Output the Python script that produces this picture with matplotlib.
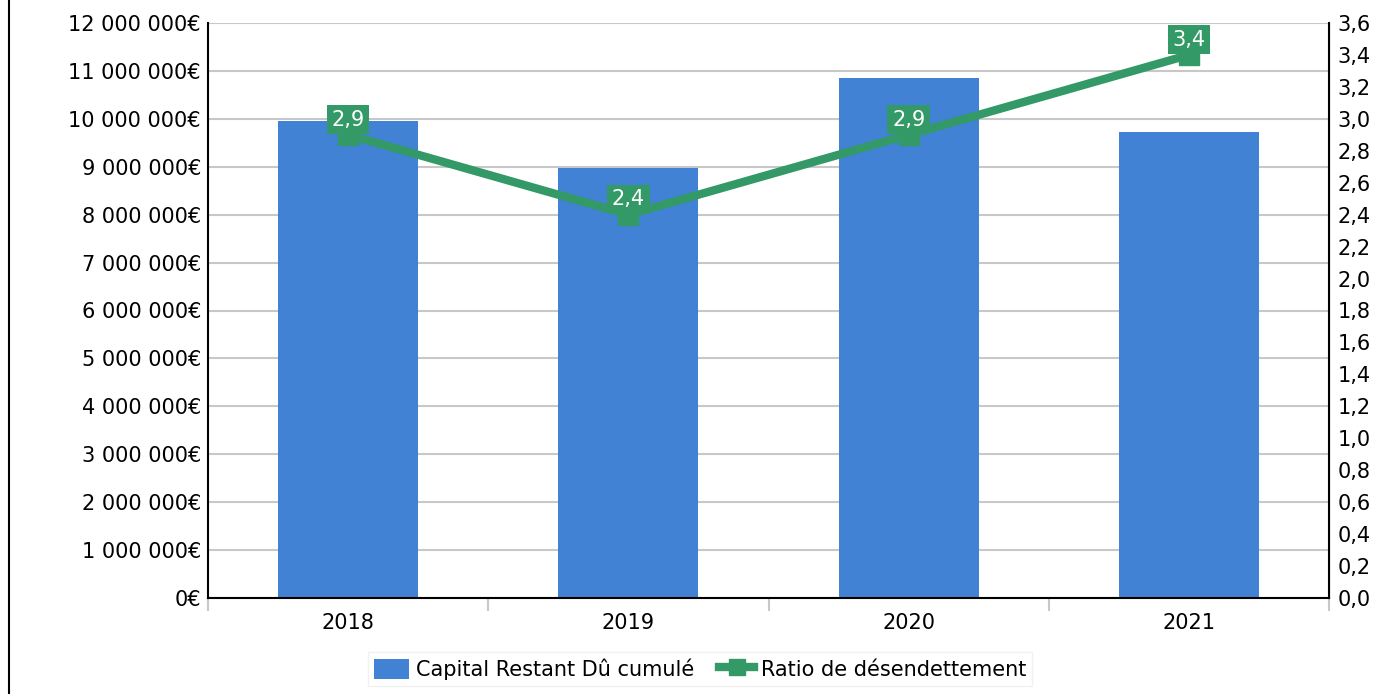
import numpy as np
import matplotlib.pyplot as plt
from matplotlib.lines import Line2D
from matplotlib.patches import Patch

years = ["2018", "2019", "2020", "2021"]
capital = [9950000, 8970000, 10850000, 9720000]
ratio = [2.9, 2.4, 2.9, 3.4]

blue = "#4182d4"
green = "#339966"
fs = 15

fig = plt.figure(figsize=(13.8, 6.94), dpi=100)
ax = fig.add_axes([208 / 1380, 1 - 598 / 694, 1121 / 1380, 575 / 694])
ax2 = ax.twinx()

x = np.arange(len(years))
ax.bar(x, capital, width=0.5, color=blue, zorder=2)
ax.set_xlim(-0.5, len(years) - 0.5)
ax.set_ylim(0, 12000000)
ax.set_yticks(np.arange(0, 12000001, 1000000))
ax.set_yticklabels([(f"{v:,}".replace(",", " ") + "€") for v in range(0, 12000001, 1000000)])
ax.grid(axis="y", color="#c8c8c8", linewidth=1.5, zorder=0)
ax.set_axisbelow(True)
ax.set_xticks(x)
ax.set_xticklabels(years)
ax.set_xticks(np.arange(-0.5, len(years), 1), minor=True)
ax.tick_params(axis="x", which="major", length=0, pad=11, labelsize=fs)
ax.tick_params(axis="x", which="minor", length=9, width=1.5, color="#c8c8c8")
ax.tick_params(axis="y", length=0, pad=5, labelsize=fs)
ax.spines["top"].set_visible(False)
ax2.spines["top"].set_visible(False)
ax.spines["left"].set_linewidth(1.5)
ax.spines["bottom"].set_linewidth(1.5)
ax2.spines["right"].set_linewidth(1.5)
ax2.spines["left"].set_visible(False)
ax2.spines["bottom"].set_visible(False)

ax2.plot(x, ratio, color=green, linewidth=6, marker="s", markersize=15, zorder=3)
ax2.set_ylim(0, 3.6)
rt = np.round(np.arange(0, 3.61, 0.2), 1)
ax2.set_yticks(rt)
ax2.set_yticklabels([f"{v:.1f}".replace(".", ",") for v in rt])
ax2.tick_params(axis="y", length=0, pad=6, labelsize=fs)

# value labels in green boxes above each point
for xi, v in zip(x, ratio):
    ax2.annotate(f"{v:.1f}".replace(".", ","), (xi, v), xytext=(0, 11), textcoords="offset points",
                 ha="center", va="center", color="white", fontsize=fs,
                 bbox=dict(boxstyle="square,pad=0.22", fc=green, ec="none"), zorder=5)

handles = [Patch(facecolor=blue, edgecolor="none"),
           Line2D([0], [0], color=green, linewidth=6, marker="s", markersize=11)]
fig.legend(handles, ["Capital Restant Dû cumulé", "Ratio de désendettement"],
           loc="center", bbox_to_anchor=(700 / 1380, 1 - 669 / 694), ncol=2,
           fontsize=fs, frameon=True, fancybox=False, edgecolor="#eeeeee",
           handlelength=1.7, handleheight=1.1, columnspacing=1.2, handletextpad=0.3,
           borderpad=0.3, borderaxespad=0)

fig.add_artist(Line2D([8.5 / 1380, 8.5 / 1380], [0, 1], color="black", linewidth=1.5))

fig.savefig("out.png", dpi=100)
